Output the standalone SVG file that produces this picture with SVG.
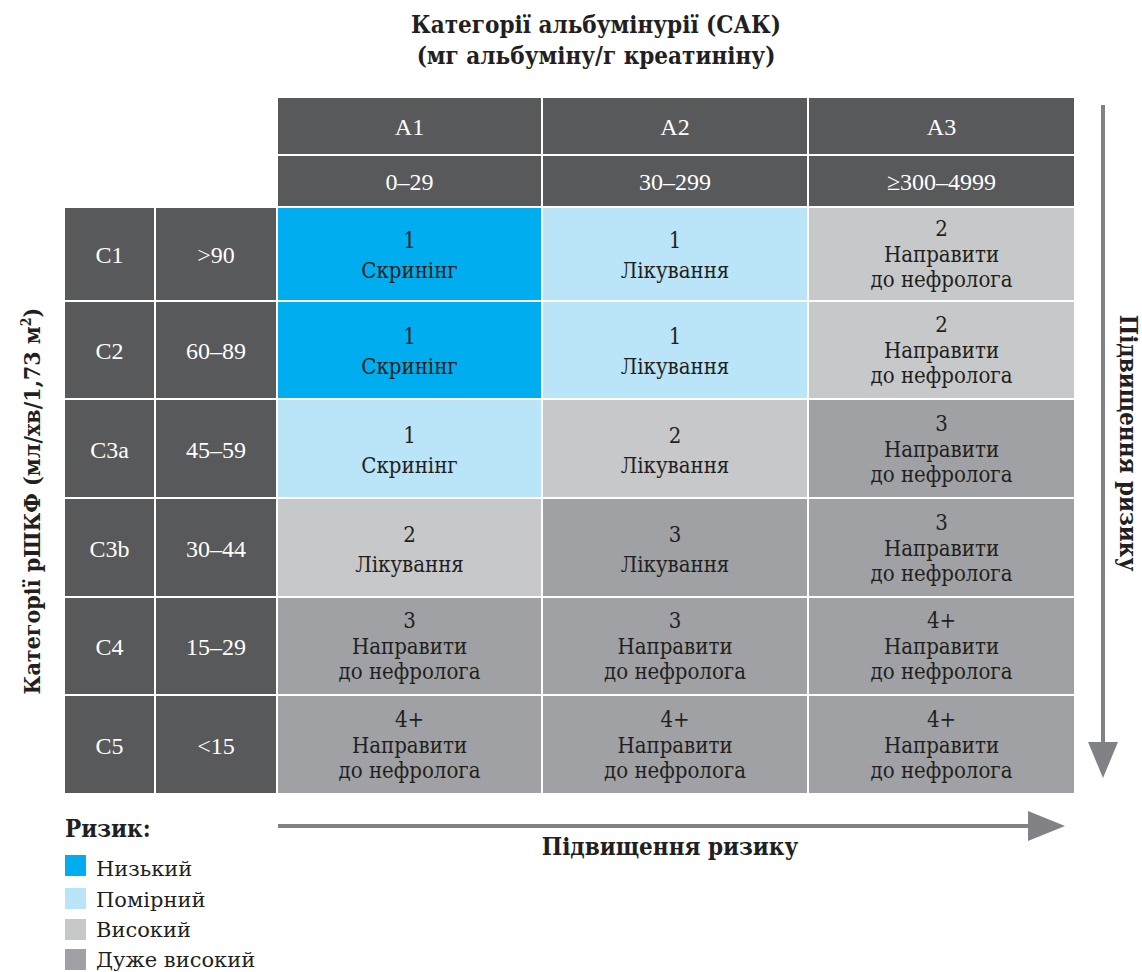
<svg xmlns="http://www.w3.org/2000/svg" width="1142" height="972" viewBox="0 0 1142 972">
<style>
.dk{fill:#58595b}
.lo{fill:#00aeef}
.md{fill:#bae5f9}
.hi{fill:#c7c8ca}
.vh{fill:#a0a1a4}
text{font-family:"Liberation Serif",serif}
.hw{fill:#ffffff;font-size:24px;text-anchor:middle}
.ct{fill:#231f20;font-size:22px;text-anchor:middle;font-family:"DejaVu Serif",serif;font-stretch:condensed}
.tt{fill:#231f20;font-size:24px;font-weight:bold;font-family:"DejaVu Serif",serif;font-stretch:condensed}
.lg{fill:#231f20;font-size:21px;font-family:"DejaVu Serif",serif}
.ar{stroke:#808285;stroke-width:4;fill:none}
.ah{fill:#808285}
</style>
<rect width="1142" height="972" fill="#ffffff"/>

<g id="title">
<text class="tt" x="596" y="33" text-anchor="middle">Категорії альбумінурії (САК)</text>
<text class="tt" x="596" y="64" text-anchor="middle">(мг альбуміну/г креатиніну)</text>
</g>

<g id="y-title">
<text class="tt" transform="translate(40,501) rotate(-90)" text-anchor="middle" style="font-size:23px">Категорії рШКФ (мл/хв/1,73 м<tspan style="font-size:14px" dy="-9">2</tspan><tspan dy="9">)</tspan></text>
</g>

<g id="header">
<rect class="dk" x="278" y="98" width="263" height="56"/>
<rect class="dk" x="543" y="98" width="264" height="56"/>
<rect class="dk" x="809" y="98" width="265" height="56"/>
<rect class="dk" x="278" y="156" width="263" height="50"/>
<rect class="dk" x="543" y="156" width="264" height="50"/>
<rect class="dk" x="809" y="156" width="265" height="50"/>
<text class="hw" x="409.5" y="135">A1</text>
<text class="hw" x="675" y="135">A2</text>
<text class="hw" x="941.5" y="135">A3</text>
<text class="hw" x="409.5" y="190">0–29</text>
<text class="hw" x="675" y="190">30–299</text>
<text class="hw" x="941.5" y="190">≥300–4999</text>
</g>

<g id="row-labels">
<rect class="dk" x="65" y="208" width="89" height="92"/>
<rect class="dk" x="156" y="208" width="120" height="92"/>
<rect class="dk" x="65" y="302" width="89" height="96"/>
<rect class="dk" x="156" y="302" width="120" height="96"/>
<rect class="dk" x="65" y="400" width="89" height="97"/>
<rect class="dk" x="156" y="400" width="120" height="97"/>
<rect class="dk" x="65" y="499" width="89" height="97"/>
<rect class="dk" x="156" y="499" width="120" height="97"/>
<rect class="dk" x="65" y="598" width="89" height="96"/>
<rect class="dk" x="156" y="598" width="120" height="96"/>
<rect class="dk" x="65" y="696" width="89" height="97"/>
<rect class="dk" x="156" y="696" width="120" height="97"/>
<text class="hw" x="109.5" y="263">C1</text>
<text class="hw" x="216" y="263">&gt;90</text>
<text class="hw" x="109.5" y="359">C2</text>
<text class="hw" x="216" y="359">60–89</text>
<text class="hw" x="109.5" y="457.5">C3a</text>
<text class="hw" x="216" y="457.5">45–59</text>
<text class="hw" x="109.5" y="556.5">C3b</text>
<text class="hw" x="216" y="556.5">30–44</text>
<text class="hw" x="109.5" y="655">C4</text>
<text class="hw" x="216" y="655">15–29</text>
<text class="hw" x="109.5" y="753.5">C5</text>
<text class="hw" x="216" y="753.5">&lt;15</text>
</g>

<g id="row-C1">
<rect class="lo" x="278" y="208" width="263" height="92"/>
<rect class="md" x="543" y="208" width="264" height="92"/>
<rect class="hi" x="809" y="208" width="265" height="92"/>
<text class="ct" x="409.5" y="248">1</text><text class="ct" x="409.5" y="278">Скринінг</text>
<text class="ct" x="675" y="248">1</text><text class="ct" x="675" y="278">Лікування</text>
<text class="ct" x="941.5" y="236">2</text><text class="ct" x="941.5" y="262">Направити</text><text class="ct" x="941.5" y="287">до нефролога</text>
</g>

<g id="row-C2">
<rect class="lo" x="278" y="302" width="263" height="96"/>
<rect class="md" x="543" y="302" width="264" height="96"/>
<rect class="hi" x="809" y="302" width="265" height="96"/>
<text class="ct" x="409.5" y="344">1</text><text class="ct" x="409.5" y="374">Скринінг</text>
<text class="ct" x="675" y="344">1</text><text class="ct" x="675" y="374">Лікування</text>
<text class="ct" x="941.5" y="332">2</text><text class="ct" x="941.5" y="358">Направити</text><text class="ct" x="941.5" y="383">до нефролога</text>
</g>

<g id="row-C3a">
<rect class="md" x="278" y="400" width="263" height="97"/>
<rect class="hi" x="543" y="400" width="264" height="97"/>
<rect class="vh" x="809" y="400" width="265" height="97"/>
<text class="ct" x="409.5" y="442.5">1</text><text class="ct" x="409.5" y="472.5">Скринінг</text>
<text class="ct" x="675" y="442.5">2</text><text class="ct" x="675" y="472.5">Лікування</text>
<text class="ct" x="941.5" y="430.5">3</text><text class="ct" x="941.5" y="456.5">Направити</text><text class="ct" x="941.5" y="481.5">до нефролога</text>
</g>

<g id="row-C3b">
<rect class="hi" x="278" y="499" width="263" height="97"/>
<rect class="vh" x="543" y="499" width="264" height="97"/>
<rect class="vh" x="809" y="499" width="265" height="97"/>
<text class="ct" x="409.5" y="541.5">2</text><text class="ct" x="409.5" y="571.5">Лікування</text>
<text class="ct" x="675" y="541.5">3</text><text class="ct" x="675" y="571.5">Лікування</text>
<text class="ct" x="941.5" y="529.5">3</text><text class="ct" x="941.5" y="555.5">Направити</text><text class="ct" x="941.5" y="580.5">до нефролога</text>
</g>

<g id="row-C4">
<rect class="vh" x="278" y="598" width="263" height="96"/>
<rect class="vh" x="543" y="598" width="264" height="96"/>
<rect class="vh" x="809" y="598" width="265" height="96"/>
<text class="ct" x="409.5" y="628">3</text><text class="ct" x="409.5" y="654">Направити</text><text class="ct" x="409.5" y="679">до нефролога</text>
<text class="ct" x="675" y="628">3</text><text class="ct" x="675" y="654">Направити</text><text class="ct" x="675" y="679">до нефролога</text>
<text class="ct" x="941.5" y="628">4+</text><text class="ct" x="941.5" y="654">Направити</text><text class="ct" x="941.5" y="679">до нефролога</text>
</g>

<g id="row-C5">
<rect class="vh" x="278" y="696" width="263" height="97"/>
<rect class="vh" x="543" y="696" width="264" height="97"/>
<rect class="vh" x="809" y="696" width="265" height="97"/>
<text class="ct" x="409.5" y="726.5">4+</text><text class="ct" x="409.5" y="752.5">Направити</text><text class="ct" x="409.5" y="777.5">до нефролога</text>
<text class="ct" x="675" y="726.5">4+</text><text class="ct" x="675" y="752.5">Направити</text><text class="ct" x="675" y="777.5">до нефролога</text>
<text class="ct" x="941.5" y="726.5">4+</text><text class="ct" x="941.5" y="752.5">Направити</text><text class="ct" x="941.5" y="777.5">до нефролога</text>
</g>

<g id="connectors">
<line class="ar" x1="1103" y1="105" x2="1103" y2="745"/>
<polygon class="ah" points="1088,742 1118,742 1103,778"/>
<line class="ar" x1="278" y1="826" x2="1031" y2="826"/>
<polygon class="ah" points="1028,811 1028,841 1065,826"/>
</g>

<g id="risk-labels">
<text class="tt" x="670" y="855" text-anchor="middle">Підвищення ризику</text>
<text class="tt" transform="translate(1120,443) rotate(90)" text-anchor="middle">Підвищення ризику</text>
</g>

<g id="legend">
<text class="tt" x="65" y="837">Ризик:</text>
<rect class="lo" x="65" y="855" width="21" height="21"/>
<rect class="md" x="65" y="888" width="21" height="21"/>
<rect class="hi" x="65" y="919" width="21" height="21"/>
<rect class="vh" x="65" y="949" width="21" height="21"/>
<text class="lg" x="96" y="876">Низький</text>
<text class="lg" x="96" y="907">Помірний</text>
<text class="lg" x="96" y="937">Високий</text>
<text class="lg" x="96" y="967">Дуже високий</text>
</g>
</svg>
